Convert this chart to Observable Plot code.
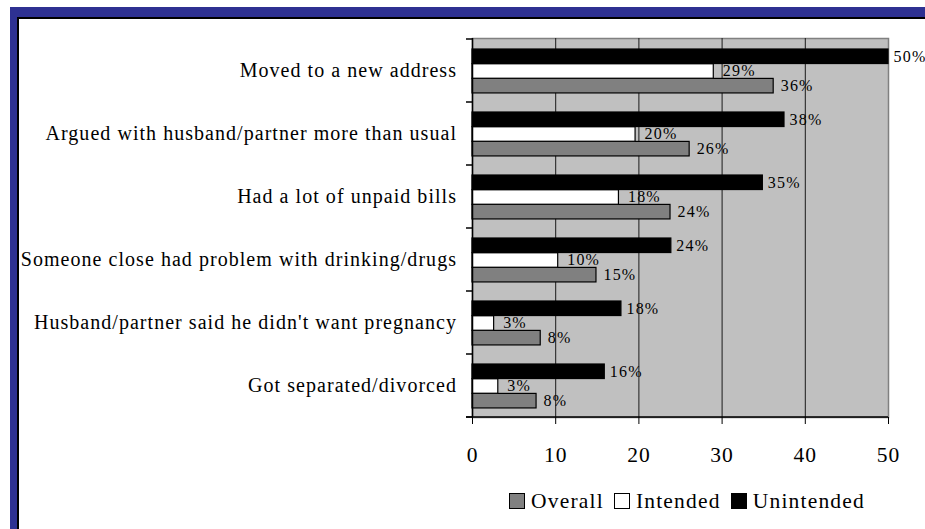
<!DOCTYPE html>
<html>
<head>
<meta charset="utf-8">
<script src="https://cdn.jsdelivr.net/npm/d3@7"></script>
<script src="https://cdn.jsdelivr.net/npm/@observablehq/plot@0.6"></script>
<style>
  html, body { margin: 0; padding: 0; background: #fff; }
  body { width: 925px; height: 529px; position: relative; overflow: hidden;
         font-family: "Liberation Serif", "Times New Roman", serif; color: #000; }
  #bandTop { position: absolute; left: 10px; top: 7px; width: 915px; height: 10px; background: #2e3192; }
  #bandLeft { position: absolute; left: 10px; top: 7px; width: 7px; height: 522px; background: #2e3192; }
  #lineTop { position: absolute; left: 17px; top: 17px; width: 908px; height: 1.5px; background: #000; }
  #lineLeft { position: absolute; left: 17px; top: 17px; width: 1.5px; height: 512px; background: #000; }
  #chart { position: absolute; left: 18px; top: 18px; }
  #legend { position: absolute; left: 509px; top: 489px; display: flex; align-items: center;
            font-size: 21.5px; letter-spacing: 1.2px; line-height: 24px; white-space: nowrap; }
  #legend .sw { width: 14px; height: 14px; border: 1.5px solid #000; margin-right: 6px; }
  #legend .item { display: flex; align-items: center; margin-right: 10px; }
  #chart g[aria-label="y-axis tick label"] text { letter-spacing: 1.04px; }
  #chart g[aria-label="x-axis tick label"] text { letter-spacing: 1px; }
  #chart g[aria-label="text"] text { letter-spacing: 1.2px; }
</style>
</head>
<body>
<div id="bandTop"></div>
<div id="bandLeft"></div>
<div id="lineTop"></div>
<div id="lineLeft"></div>
<div id="chart"></div>
<div id="legend"></div>
<script>
// ---- Data ----
const categories = [
  "Moved to a new address",
  "Argued with husband/partner more than usual",
  "Had a lot of unpaid bills",
  "Someone close had problem with drinking/drugs",
  "Husband/partner said he didn't want pregnancy",
  "Got separated/divorced"
];
const seriesNames = ["Overall", "Intended", "Unintended"];
const overall    = [36.2, 26.1, 23.8, 14.9, 8.2, 7.7];
const intended   = [29.0, 19.6, 17.6, 10.3, 2.6, 3.1];
const unintended = [50.0, 37.5, 34.9, 23.9, 17.9, 15.9];
const xTicks = [0, 10, 20, 30, 40, 50];
const seriesColors = { Overall: "#808080", Intended: "#ffffff", Unintended: "#000000" };

const valuesBySeries = { Overall: overall, Intended: intended, Unintended: unintended };
const rows = seriesNames.flatMap(s => categories.map((c, i) => ({ category: c, series: s, value: valuesBySeries[s][i] })));
const of = s => rows.filter(d => d.series === s);

// ---- Layout ----
const W = 907, H = 470, mT = 20, mB = 71, mL = 454, mR = 37;
const bw = (H - mT - mB) / categories.length;     // band height
const off = 10, t = 14.7;                            // group offset and bar thickness
const slot = { Unintended: 0, Intended: 1, Overall: 2 };
const inset = s => ({ insetTop: off + slot[s] * t, insetBottom: bw - (off + (slot[s] + 1) * t) });
const dyOf = s => off + (slot[s] + 0.5) * t - bw / 2;
const font = "Liberation Serif, Times New Roman, serif";

const barMark = s => Plot.barX(of(s), {
  x: "value", y: "category", fill: seriesColors[s], stroke: "#000", strokeWidth: 1.2, ...inset(s)
});
const labelMark = (s, dx, extra = 0) => Plot.text(of(s), {
  x: "value", y: "category", text: d => Math.round(d.value) + "%", textAnchor: "start",
  dx, dy: dyOf(s) + extra, fontSize: 16, fontFamily: font, fill: "#000"
});

const plot = Plot.plot({
  width: W, height: H, marginTop: mT, marginBottom: mB, marginLeft: mL, marginRight: mR,
  style: { fontFamily: font, color: "#000", background: "transparent", overflow: "visible" },
  x: { domain: [0, 50], label: null },
  y: { domain: categories, padding: 0, label: null },
  marks: [
    Plot.frame({ fill: "#c0c0c0", stroke: "#808080", strokeWidth: 1.5 }),
    Plot.ruleX([10, 20, 30, 40], { stroke: "#1a1a1a", strokeWidth: 1 }),
    barMark("Overall"),
    barMark("Intended"),
    labelMark("Overall", 7),
    labelMark("Intended", 9, -1),
    barMark("Unintended"),
    labelMark("Unintended", 5),
    Plot.ruleX([0], { stroke: "#000", strokeWidth: 1.5 }),
    Plot.axisX({ ticks: xTicks, tickFormat: d => String(d), tickSize: 7, tickPadding: 22,
                 fontSize: 21.5, fontFamily: font, stroke: "#000", label: null }),
    Plot.axisY({ tickSize: 0, tickPadding: 15.5, fontSize: 20, fontFamily: font, label: null })
  ]
});
document.getElementById("chart").appendChild(plot);

// Axis lines and band-boundary ticks, placed from the plot's own scales
const xs = plot.scale("x"), ys = plot.scale("y");
const x0 = xs.apply(0), x50 = xs.apply(50);
const band = ys.bandwidth ?? bw;
const bounds = categories.map(c => ys.apply(c)).concat([ys.apply(categories[categories.length - 1]) + band]);
const svg = d3.select(plot);
const g = svg.append("g").attr("stroke", "#000").attr("stroke-width", 1.5);
g.append("line").attr("x1", x0 - 6).attr("x2", x50).attr("y1", bounds[bounds.length - 1]).attr("y2", bounds[bounds.length - 1]);
bounds.forEach(b => g.append("line").attr("x1", x0 - 6).attr("x2", x0).attr("y1", b).attr("y2", b));

// Legend
const legend = document.getElementById("legend");
seriesNames.forEach(s => {
  const item = document.createElement("div");
  item.className = "item";
  const sw = document.createElement("div");
  sw.className = "sw";
  sw.style.background = seriesColors[s];
  const lab = document.createElement("span");
  lab.textContent = s;
  item.appendChild(sw); item.appendChild(lab);
  legend.appendChild(item);
});
</script>
</body>
</html>
